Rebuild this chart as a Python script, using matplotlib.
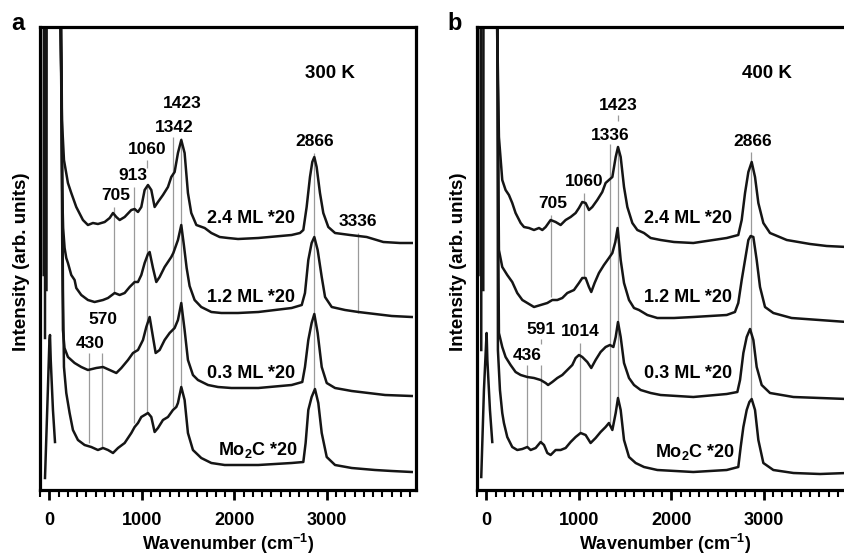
import matplotlib.pyplot as plt
from matplotlib.ticker import MultipleLocator

plt.rcParams['font.family'] = ['Liberation Sans', 'DejaVu Sans']
plt.rcParams['font.weight'] = 'bold'
plt.rcParams['mathtext.fontset'] = 'custom'
plt.rcParams['mathtext.rm'] = 'Liberation Sans:bold'
plt.rcParams['mathtext.it'] = 'Liberation Sans:bold'
plt.rcParams['mathtext.bf'] = 'Liberation Sans:bold'

# ---- panel a (300 K): wavenumber (cm-1) / intensity (arb. units)
a24_x = [-60, -58, 115, 123, 137, 159, 202, 238, 292, 364, 418, 472, 526, 599, 653, 689, 725, 761, 815, 887,
         923, 959, 995, 1031, 1067, 1103, 1139, 1175, 1229, 1283, 1319, 1355, 1391, 1427, 1463, 1499, 1535, 1590,
         1680, 1752, 1842, 1932, 2040, 2260, 2500, 2620, 2710, 2746, 2782, 2818, 2843, 2865, 2890, 2926, 2962,
         3016, 3089, 3251, 3341, 3431, 3611, 3791, 3918]
a24_y = [215, 480, 480, 460, 370, 330, 307, 297, 283, 270, 265, 267, 266, 268, 272, 277, 273, 270, 273, 280,
         281, 278, 283, 300, 305, 300, 283, 288, 295, 303, 313, 318, 337, 350, 337, 297, 277, 265,
         262, 257, 253, 252, 251, 252, 254, 255, 257, 260, 283, 313, 328, 333, 323, 297, 277,
         263, 257, 255, 254, 253, 248, 247, 247]

a12_x = [-30, -28, 118, 128, 140, 150, 166, 184, 202, 238, 274, 292, 346, 418, 490, 581, 635, 707, 761, 815,
         869, 923, 959, 995, 1031, 1067, 1085, 1121, 1157, 1193, 1247, 1319, 1341, 1391, 1427, 1455, 1485, 1517,
         1571, 1643, 1752, 1860, 2040, 2260, 2620, 2729, 2764, 2800, 2836, 2865, 2901, 2945, 2981, 3053, 3197,
         3341, 3521, 3702, 3918]
a12_y = [200, 480, 480, 420, 300, 262, 242, 232, 227, 215, 210, 202, 195, 190, 188, 190, 192, 197, 195, 197,
         203, 208, 208, 215, 227, 236, 238, 222, 208, 213, 223, 233, 237, 250, 265, 245, 222, 204,
         190, 183, 178, 177, 177, 178, 182, 185, 197, 230, 247, 253, 240, 213, 193, 183, 180,
         178, 176, 174, 173]

a03_x = [-46, -45, 125, 132, 140, 148, 165, 202, 274, 346, 418, 508, 581, 653, 725, 779, 851, 905, 959, 1013,
         1049, 1085, 1121, 1150, 1193, 1247, 1301, 1355, 1391, 1427, 1463, 1499, 1553, 1607, 1716, 1824, 1968,
         2260, 2620, 2735, 2764, 2800, 2836, 2865, 2901, 2945, 2999, 3089, 3269, 3449, 3630, 3918]
a03_y = [152, 480, 480, 380, 250, 160, 142, 133, 127, 123, 120, 122, 123, 120, 117, 122, 130, 137, 140, 150,
         163, 173, 153, 137, 140, 150, 157, 162, 170, 187, 160, 130, 115, 110, 105, 103, 102,
         102, 105, 108, 123, 150, 167, 176, 157, 123, 107, 102, 99, 97, 95, 94]

amo_x = [128, 135, 148, 159, 184, 220, 256, 310, 382, 454, 526, 581, 635, 689, 743, 815, 887, 923, 959, 995,
         1067, 1103, 1139, 1175, 1229, 1283, 1337, 1373, 1391, 1427, 1463, 1499, 1553, 1643, 1752, 1896, 2260,
         2620, 2746, 2771, 2800, 2836, 2872, 2908, 2945, 2999, 3089, 3269, 3521, 3702, 3918]
amo_y = [480, 400, 200, 123, 97, 77, 60, 50, 45, 43, 40, 42, 40, 37, 42, 47, 57, 63, 67, 73,
         77, 73, 58, 62, 70, 73, 80, 83, 87, 103, 90, 57, 40, 32, 27, 25, 25,
         27, 28, 47, 80, 93, 101, 87, 57, 33, 25, 22, 20, 19, 18]

a_el_x = [-46, -15, 2, 8, 16, 40, 62]
a_el_y = [12, 100, 150, 155, 130, 80, 48]

# peak marks: position, lower end, upper end
a_mark_pos = [430, 570, 705, 913, 1060, 1060, 1342, 1423, 2866, 3336]
a_mark_lo = [47, 43, 197, 67, 77, 322, 83, 104, 100, 177]
a_mark_hi = [137, 137, 283, 303, 303, 330, 353, 352, 337, 257]
a_peak_text = ['430', '570', '705', '913', '1060', '1342', '1423', '2866', '3336']
a_peak_x = [444, 581, 714, 905, 1060, 1348, 1435, 2865, 3341]
a_peak_y = [147, 171, 294, 315, 341, 363, 387, 349, 268]

# ---- panel b (400 K)
b24_x = [-62, -60, 110, 119, 137, 173, 209, 245, 281, 317, 372, 408, 462, 516, 570, 606, 642, 696, 750, 804,
         858, 912, 966, 1002, 1038, 1074, 1110, 1146, 1200, 1254, 1290, 1326, 1363, 1399, 1424, 1453, 1489, 1525,
         1579, 1633, 1705, 1777, 1885, 2029, 2238, 2599, 2724, 2761, 2797, 2833, 2869, 2905, 2941, 2995, 3067,
         3248, 3500, 3680, 3900]
b24_y = [215, 480, 480, 460, 353, 310, 300, 295, 287, 277, 267, 263, 262, 260, 262, 260, 263, 270, 268, 265,
         270, 273, 277, 282, 288, 287, 280, 283, 290, 298, 307, 310, 313, 333, 343, 333, 303, 283,
         267, 260, 257, 252, 250, 248, 247, 252, 255, 270, 297, 318, 328, 313, 287, 267, 257,
         250, 246, 244, 243]

b12_x = [-32, -30, 115, 125, 137, 173, 227, 281, 335, 390, 444, 516, 588, 660, 714, 768, 822, 876, 948, 1002,
         1038, 1074, 1110, 1135, 1171, 1218, 1272, 1326, 1363, 1395, 1420, 1453, 1489, 1543, 1597, 1651, 1741,
         1849, 2029, 2238, 2599, 2688, 2724, 2761, 2797, 2833, 2858, 2887, 2923, 2959, 3013, 3103, 3300, 3600,
         3900]
b12_y = [200, 480, 480, 400, 240, 223, 215, 208, 197, 190, 187, 183, 185, 187, 190, 190, 192, 197, 200, 207,
         212, 212, 203, 198, 207, 217, 225, 232, 237, 248, 262, 230, 207, 190, 182, 180, 175,
         172, 172, 173, 175, 178, 187, 210, 230, 250, 254, 253, 230, 203, 183, 177, 172, 170,
         168]

b03_x = [-54, -53, 120, 126, 130, 137, 173, 209, 263, 317, 372, 444, 516, 588, 642, 668, 714, 768, 822, 876,
         930, 966, 1002, 1038, 1092, 1135, 1182, 1236, 1290, 1337, 1374, 1399, 1424, 1453, 1489, 1543, 1597,
         1669, 1777, 1885, 2238, 2599, 2714, 2743, 2779, 2815, 2851, 2887, 2923, 2977, 3067, 3320, 3608, 3900]
b03_y = [140, 480, 480, 380, 250, 157, 143, 133, 125, 118, 115, 113, 112, 110, 107, 105, 108, 112, 115, 120,
         125, 132, 135, 133, 128, 122, 130, 138, 143, 145, 143, 153, 168, 153, 127, 112, 105,
         100, 97, 95, 93, 96, 98, 110, 137, 153, 161, 150, 123, 105, 97, 93, 92, 91]

bmo_x = [122, 126, 148, 173, 191, 227, 281, 335, 390, 444, 480, 534, 588, 624, 660, 696, 750, 804, 858, 912,
         966, 1020, 1074, 1128, 1182, 1236, 1290, 1326, 1363, 1399, 1424, 1453, 1489, 1543, 1615, 1705, 1849,
         2238, 2599, 2724, 2750, 2779, 2815, 2844, 2869, 2905, 2941, 2995, 3103, 3320, 3608, 3900]
bmo_y = [480, 140, 100, 77, 67, 53, 43, 40, 41, 43, 40, 42, 48, 45, 37, 35, 40, 40, 42, 48,
         53, 57, 55, 47, 52, 58, 63, 67, 60, 77, 92, 80, 50, 33, 27, 23, 20,
         18, 20, 23, 43, 63, 80, 88, 91, 80, 50, 27, 20, 17, 16, 17]

b_el_x = [-54, -25, 0, 4, 12, 40, 65]
b_el_y = [13, 100, 150, 157, 130, 80, 48]

b_mark_pos = [436, 591, 591, 705, 1014, 1060, 1336, 1423, 1423, 2866]
b_mark_lo = [43, 48, 146, 193, 57, 212, 67, 93, 369, 91]
b_mark_hi = [125, 125, 151, 275, 147, 297, 346, 343, 375, 338]
b_peak_text = ['436', '591', '1014', '705', '1060', '1336', '1423', '2866']
b_peak_x = [444, 588, 1020, 714, 1056, 1337, 1424, 2880]
b_peak_y = [135, 161, 158, 286, 308, 355, 385, 349]

samples = ['2.4 ML *20', '1.2 ML *20', '0.3 ML *20', 'Mo$_2$C *20']
a_sample_y = [267, 188, 112, 35]
b_sample_y = [267, 188, 112, 33]
temps = ['300 K', '400 K']

fig = plt.figure(figsize=(8.44, 5.57), dpi=100)
W, H = 844, 557


def panel(left, traces, elastic, mpos, mlo, mhi, ptext, px, py, sample_y, temp, letter, letter_x):
    ax = fig.add_axes([left / W, 67 / H, 376 / W, 463 / H])
    ax.vlines(mpos, mlo, mhi, color='#9a9a9a', lw=0.9, zorder=1)
    for xs, ys in traces:
        ax.plot(xs, ys, color='#151515', lw=1.8, zorder=2)
    ax.plot(elastic[0], elastic[1], color='#151515', lw=1.8, zorder=2)
    for t, x, y in zip(ptext, px, py):
        ax.text(x, y, t, ha='center', va='center', fontsize=12.5, fontweight='bold')
    for i, s in enumerate(samples):
        xr = 2690 if i == 3 else 2660
        ax.text(xr, sample_y[i], s, ha='right', va='baseline', fontsize=13, fontweight='bold')
    ax.text(3035, 416, temp, ha='center', va='center', fontsize=13.5, fontweight='bold')

    ax.set_xlim(-100, 3964)
    ax.set_ylim(0, 463)
    ax.xaxis.set_major_locator(MultipleLocator(1000))
    ax.xaxis.set_minor_locator(MultipleLocator(100))
    ax.tick_params(axis='x', which='major', direction='out', length=7, width=2, labelsize=13, pad=9)
    ax.tick_params(axis='x', which='minor', direction='out', length=5, width=1.5)
    ax.tick_params(axis='y', left=False, labelleft=False)
    for s in ax.spines.values():
        s.set_linewidth(2.3)
    ax.set_xlabel('Wavenumber (cm$^{-1}$)', fontsize=13, fontweight='bold', va='center')
    ax.xaxis.set_label_coords(0.5, -0.117)
    ax.set_ylabel('Intensity (arb. units)', fontsize=13.5, fontweight='bold', va='center')
    ax.yaxis.set_label_coords(-0.048, 0.492)
    fig.text(letter_x / W, 1 - 24 / H, letter, ha='center', va='center', fontsize=17, fontweight='bold')
    return ax


panel(40, [(a24_x, a24_y), (a12_x, a12_y), (a03_x, a03_y), (amo_x, amo_y)], (a_el_x, a_el_y),
      a_mark_pos, a_mark_lo, a_mark_hi, a_peak_text, a_peak_x, a_peak_y, a_sample_y, temps[0], 'a', 18)
panel(477, [(b24_x, b24_y), (b12_x, b12_y), (b03_x, b03_y), (bmo_x, bmo_y)], (b_el_x, b_el_y),
      b_mark_pos, b_mark_lo, b_mark_hi, b_peak_text, b_peak_x, b_peak_y, b_sample_y, temps[1], 'b', 455)

fig.savefig('out.png', dpi=100)
